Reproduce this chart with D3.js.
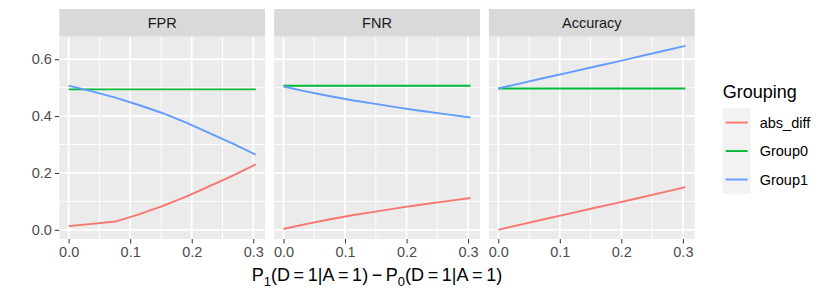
<!DOCTYPE html>
<html>
<head>
<meta charset="utf-8">
<script src="https://cdn.jsdelivr.net/npm/d3@7"></script>
<style>
  body { margin: 0; background: #fff; }
  text { font-family: "Liberation Sans", Arial, sans-serif; }
</style>
</head>
<body>
<svg id="chart"></svg>
<script>
// chart size
var width = 830,
    height = 297;

// x positions where the curves were read
var xValues = [0, 0.038, 0.076, 0.114, 0.152, 0.19, 0.228, 0.266, 0.304];

// facets and legend groups
var metrics = ["FPR", "FNR", "Accuracy"];
var groups = ["abs_diff", "Group0", "Group1"];
var colors = ["#F8766D", "#00BA38", "#619CFF"];

// values, one array per facet and group
var fprAbs = [0.013, 0.021, 0.029, 0.054, 0.083, 0.116, 0.153, 0.190, 0.230];
var fprG0  = [0.494, 0.494, 0.494, 0.494, 0.494, 0.494, 0.494, 0.494, 0.494];
var fprG1  = [0.507, 0.487, 0.465, 0.439, 0.411, 0.378, 0.341, 0.304, 0.264];

var fnrAbs = [0.003, 0.021, 0.037, 0.052, 0.065, 0.078, 0.090, 0.101, 0.112];
var fnrG0  = [0.507, 0.507, 0.507, 0.507, 0.507, 0.507, 0.507, 0.507, 0.507];
var fnrG1  = [0.504, 0.486, 0.470, 0.455, 0.442, 0.429, 0.417, 0.406, 0.395];

var accAbs = [0.000, 0.019, 0.038, 0.056, 0.075, 0.093, 0.112, 0.131, 0.150];
var accG0  = [0.497, 0.497, 0.497, 0.497, 0.497, 0.497, 0.497, 0.497, 0.497];
var accG1  = [0.497, 0.516, 0.535, 0.553, 0.572, 0.590, 0.609, 0.628, 0.647];

var series = {
  FPR: [fprAbs, fprG0, fprG1],
  FNR: [fnrAbs, fnrG0, fnrG1],
  Accuracy: [accAbs, accG0, accG1]
};

// tick values
var xTicks = [0, 0.1, 0.2, 0.3];
var xMinor = [0.05, 0.15, 0.25];
var yTicks = [0, 0.2, 0.4, 0.6];
var yMinor = [0.1, 0.3, 0.5];

// layout of the facets
var panelLeft = 59.3,
    panelW = 205.8,
    panelGap = 9,
    panelTop = 36.7,
    panelBottom = 239,
    stripTop = 9;

var svg = d3.select("#chart")
  .attr("width", width)
  .attr("height", height);

// shared scales (ggplot expands the data range by 5%)
var allY = [].concat(fprAbs, fprG0, fprG1, fnrAbs, fnrG0, fnrG1, accAbs, accG0, accG1);
var yMin = d3.min(allY), yMax = d3.max(allY);
var yPad = (yMax - yMin) * 0.05;
var y = d3.scaleLinear()
  .domain([yMin - yPad, yMax + yPad])
  .range([panelBottom, panelTop]);

var xPad = (d3.max(xValues) - d3.min(xValues)) * 0.05;

var line = d3.line();

metrics.forEach(function(m, i) {
  var left = panelLeft + i * (panelW + panelGap);
  var x = d3.scaleLinear()
    .domain([d3.min(xValues) - xPad, d3.max(xValues) + xPad])
    .range([left, left + panelW]);

  var g = svg.append("g");

  // strip
  g.append("rect")
    .attr("x", left).attr("y", stripTop)
    .attr("width", panelW).attr("height", panelTop - stripTop)
    .attr("fill", "#D9D9D9");
  g.append("text")
    .attr("x", left + panelW / 2)
    .attr("y", (stripTop + panelTop) / 2 + 5)
    .attr("text-anchor", "middle")
    .attr("font-size", 14.5)
    .attr("fill", "#1A1A1A")
    .text(m);

  // panel background
  g.append("rect")
    .attr("x", left).attr("y", panelTop)
    .attr("width", panelW).attr("height", panelBottom - panelTop)
    .attr("fill", "#EBEBEB");

  // minor grid
  g.selectAll(".ymin").data(yMinor).enter().append("line")
    .attr("x1", left).attr("x2", left + panelW)
    .attr("y1", y).attr("y2", y)
    .attr("stroke", "#fff").attr("stroke-width", 0.9);
  g.selectAll(".xmin").data(xMinor).enter().append("line")
    .attr("x1", x).attr("x2", x)
    .attr("y1", panelTop).attr("y2", panelBottom)
    .attr("stroke", "#fff").attr("stroke-width", 0.9);

  // major grid
  g.selectAll(".ymaj").data(yTicks).enter().append("line")
    .attr("x1", left).attr("x2", left + panelW)
    .attr("y1", y).attr("y2", y)
    .attr("stroke", "#fff").attr("stroke-width", 1.8);
  g.selectAll(".xmaj").data(xTicks).enter().append("line")
    .attr("x1", x).attr("x2", x)
    .attr("y1", panelTop).attr("y2", panelBottom)
    .attr("stroke", "#fff").attr("stroke-width", 1.8);

  // lines
  series[m].forEach(function(vals, k) {
    var pts = xValues.map(function(xv, j) { return [x(xv), y(vals[j])]; });
    g.append("path")
      .attr("d", line(pts))
      .attr("fill", "none")
      .attr("stroke", colors[k])
      .attr("stroke-width", 1.9);
  });

  // x axis
  var xAxis = d3.axisBottom(x)
    .tickValues(xTicks)
    .tickFormat(d3.format(".1f"))
    .tickSize(4.5)
    .tickPadding(3);
  var ax = g.append("g")
    .attr("transform", "translate(0," + panelBottom + ")")
    .call(xAxis);
  ax.select(".domain").remove();
  ax.selectAll("line").attr("stroke", "#333").attr("stroke-width", 1);
  ax.selectAll("text")
    .attr("font-size", 14.5)
    .attr("fill", "#4D4D4D")
    .style("font-family", "'Liberation Sans', Arial, sans-serif");

  // y axis only on the first facet
  if (i === 0) {
    var yAxis = d3.axisLeft(y)
      .tickValues(yTicks)
      .tickFormat(d3.format(".1f"))
      .tickSize(4.5)
      .tickPadding(3);
    var ay = g.append("g")
      .attr("transform", "translate(" + left + ",0)")
      .call(yAxis);
    ay.select(".domain").remove();
    ay.selectAll("line").attr("stroke", "#333").attr("stroke-width", 1);
    ay.selectAll("text")
      .attr("font-size", 14.5)
      .attr("fill", "#4D4D4D")
      .style("font-family", "'Liberation Sans', Arial, sans-serif");
  }
});

// x axis title: P1(D = 1|A = 1) - P0(D = 1|A = 1)
var panelsRight = panelLeft + 3 * panelW + 2 * panelGap;
var title = svg.append("text")
  .attr("x", (panelLeft + panelsRight) / 2)
  .attr("y", 281)
  .attr("text-anchor", "middle")
  .attr("font-size", 18)
  .attr("fill", "#000");
title.append("tspan").text("P");
title.append("tspan").attr("font-size", 13).attr("dy", 4.5).text("1");
title.append("tspan").attr("dy", -4.5).text("(D\u2009=\u20091|A\u2009=\u20091)\u2009\u2212\u2009P");
title.append("tspan").attr("font-size", 13).attr("dy", 4.5).text("0");
title.append("tspan").attr("dy", -4.5).text("(D\u2009=\u20091|A\u2009=\u20091)");

// legend
var legX = 722.7, legY = 108.3, keyH = 28.5;
svg.append("text")
  .attr("x", legX).attr("y", 98)
  .attr("font-size", 18)
  .attr("fill", "#000")
  .text("Grouping");

var leg = svg.selectAll(".leg").data(groups).enter().append("g")
  .attr("transform", function(d, i) { return "translate(" + legX + "," + (legY + i * keyH) + ")"; });
leg.append("rect")
  .attr("width", 28).attr("height", keyH)
  .attr("fill", "#F2F2F2");
leg.append("line")
  .attr("x1", 3).attr("x2", 25)
  .attr("y1", keyH / 2).attr("y2", keyH / 2)
  .attr("stroke", function(d, i) { return colors[i]; })
  .attr("stroke-width", 1.9);
leg.append("text")
  .attr("x", 37).attr("y", keyH / 2 + 5)
  .attr("font-size", 14.5)
  .attr("fill", "#000")
  .text(function(d) { return d; });
</script>
</body>
</html>
